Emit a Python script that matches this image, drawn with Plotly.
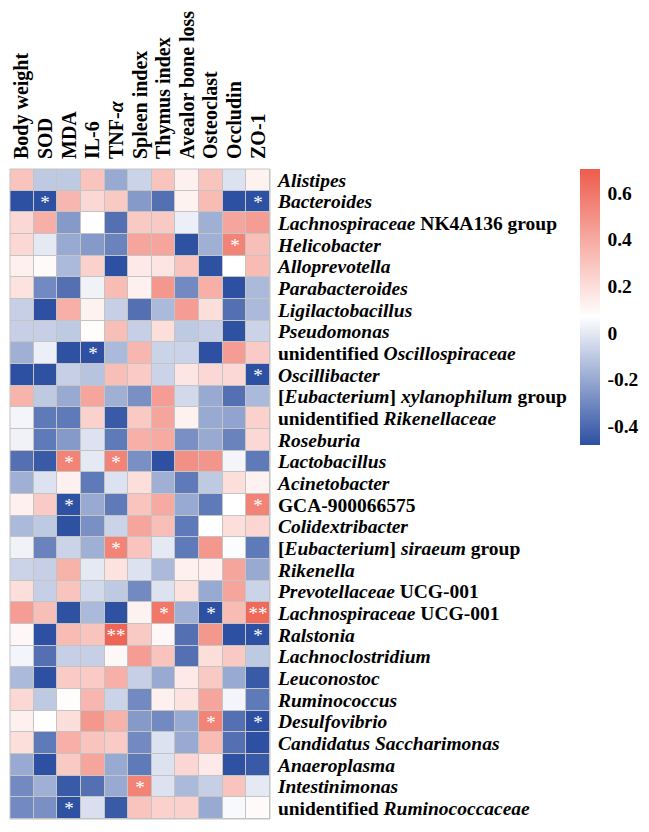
import plotly.graph_objects as go

measures = ["Body weight", "SOD", "MDA", "IL-6", "TNF-<i>α</i>", "Spleen index", "Thymus index",
            "Avealor bone loss", "Osteoclast", "Occludin", "ZO-1"]

species = [
    "<i>Alistipes</i>", "<i>Bacteroides</i>", "<i>Lachnospiraceae</i> NK4A136 group", "<i>Helicobacter</i>",
    "<i>Alloprevotella</i>", "<i>Parabacteroides</i>", "<i>Ligilactobacillus</i>", "<i>Pseudomonas</i>",
    "unidentified <i>Oscillospiraceae</i>", "<i>Oscillibacter</i>", "[<i>Eubacterium</i>] <i>xylanophilum</i> group",
    "unidentified <i>Rikenellaceae</i>", "<i>Roseburia</i>", "<i>Lactobacillus</i>", "<i>Acinetobacter</i>",
    "GCA-900066575", "<i>Colidextribacter</i>", "[<i>Eubacterium</i>] <i>siraeum</i> group", "<i>Rikenella</i>",
    "<i>Prevotellaceae</i> UCG-001", "<i>Lachnospiraceae</i> UCG-001", "<i>Ralstonia</i>", "<i>Lachnoclostridium</i>",
    "<i>Leuconostoc</i>", "<i>Ruminococcus</i>", "<i>Desulfovibrio</i>", "<i>Candidatus Saccharimonas</i>",
    "<i>Anaeroplasma</i>", "<i>Intestinimonas</i>", "unidentified <i>Ruminococcaceae</i>",
]

corr = [
    [0.30, -0.10, -0.10, 0.30, -0.20, -0.07, 0.30, 0.13, 0.30, -0.02, 0.12],
    [-0.52, -0.50, 0.35, 0.22, 0.28, -0.25, -0.38, 0.12, 0.33, -0.50, -0.52],
    [0.22, 0.38, -0.25, 0.07, -0.38, 0.28, 0.28, 0.02, -0.18, 0.42, 0.45],
    [0.22, 0.00, -0.20, -0.25, -0.32, 0.42, 0.42, -0.48, -0.18, 0.55, 0.32],
    [0.13, 0.09, -0.15, 0.25, -0.50, 0.15, 0.17, 0.30, -0.48, 0.07, 0.33],
    [0.18, -0.30, -0.38, 0.03, 0.33, 0.13, 0.47, -0.30, 0.38, -0.50, -0.15],
    [-0.08, -0.50, 0.38, 0.12, -0.08, -0.38, -0.15, 0.45, 0.20, -0.38, -0.15],
    [-0.08, -0.08, -0.10, 0.08, 0.32, -0.08, 0.20, -0.10, -0.08, -0.48, -0.07],
    [-0.18, 0.02, -0.48, -0.50, -0.15, 0.35, -0.07, -0.07, -0.50, 0.45, 0.27],
    [-0.50, -0.48, -0.08, -0.12, 0.32, 0.27, -0.07, 0.17, 0.22, 0.22, -0.52],
    [0.36, -0.10, -0.20, 0.42, -0.18, -0.28, 0.45, -0.05, -0.20, -0.38, -0.15],
    [0.04, -0.35, -0.35, 0.25, -0.45, 0.28, 0.42, 0.12, -0.20, -0.22, 0.25],
    [0.03, -0.35, -0.25, -0.02, -0.35, 0.38, 0.40, -0.28, -0.20, -0.32, 0.22],
    [-0.38, -0.45, 0.55, 0.00, 0.55, -0.28, -0.50, 0.50, 0.48, 0.04, -0.35],
    [-0.18, -0.02, 0.13, -0.35, -0.02, 0.20, -0.18, -0.35, -0.10, 0.20, 0.12],
    [0.13, 0.27, -0.48, -0.20, -0.35, 0.30, 0.40, -0.20, -0.35, 0.07, 0.55],
    [-0.15, -0.10, -0.48, -0.28, -0.07, 0.42, 0.32, -0.35, 0.07, 0.20, 0.23],
    [0.03, -0.32, -0.07, -0.18, 0.55, 0.30, 0.00, -0.35, 0.47, 0.06, -0.35],
    [-0.07, -0.08, 0.37, 0.00, 0.18, -0.02, -0.15, 0.13, 0.13, 0.42, -0.20],
    [0.20, -0.08, 0.30, -0.05, -0.10, -0.30, -0.02, 0.18, -0.20, 0.42, -0.07],
    [0.45, 0.32, -0.48, -0.15, -0.48, 0.12, 0.60, -0.18, -0.52, 0.33, 0.65],
    [0.10, -0.50, 0.33, 0.30, 0.67, 0.28, 0.10, -0.38, 0.47, -0.50, -0.52],
    [0.04, -0.38, -0.08, -0.08, 0.10, 0.45, 0.30, -0.38, 0.20, 0.28, -0.10],
    [-0.15, -0.50, 0.27, 0.27, 0.38, -0.08, -0.20, 0.15, 0.28, -0.20, -0.45],
    [0.22, -0.10, 0.08, 0.35, -0.07, -0.30, 0.13, 0.18, 0.42, 0.04, -0.35],
    [0.13, 0.07, 0.20, 0.47, 0.37, -0.25, -0.30, -0.20, 0.55, -0.38, -0.50],
    [0.20, -0.35, 0.38, 0.30, 0.27, -0.30, -0.02, -0.20, 0.33, -0.38, -0.50],
    [-0.20, -0.50, 0.28, 0.42, -0.20, -0.35, -0.02, 0.23, 0.15, -0.48, -0.45],
    [-0.30, -0.18, -0.45, -0.38, -0.20, 0.55, -0.02, -0.15, -0.08, 0.30, 0.00],
    [-0.30, -0.28, -0.48, -0.03, -0.45, 0.30, 0.25, 0.25, -0.20, 0.05, 0.09],
]

stars = [
    ["", "", "", "", "", "", "", "", "", "", ""],
    ["", "*", "", "", "", "", "", "", "", "", "*"],
    ["", "", "", "", "", "", "", "", "", "", ""],
    ["", "", "", "", "", "", "", "", "", "*", ""],
    ["", "", "", "", "", "", "", "", "", "", ""],
    ["", "", "", "", "", "", "", "", "", "", ""],
    ["", "", "", "", "", "", "", "", "", "", ""],
    ["", "", "", "", "", "", "", "", "", "", ""],
    ["", "", "", "*", "", "", "", "", "", "", ""],
    ["", "", "", "", "", "", "", "", "", "", "*"],
    ["", "", "", "", "", "", "", "", "", "", ""],
    ["", "", "", "", "", "", "", "", "", "", ""],
    ["", "", "", "", "", "", "", "", "", "", ""],
    ["", "", "*", "", "*", "", "", "", "", "", ""],
    ["", "", "", "", "", "", "", "", "", "", ""],
    ["", "", "*", "", "", "", "", "", "", "", "*"],
    ["", "", "", "", "", "", "", "", "", "", ""],
    ["", "", "", "", "*", "", "", "", "", "", ""],
    ["", "", "", "", "", "", "", "", "", "", ""],
    ["", "", "", "", "", "", "", "", "", "", ""],
    ["", "", "", "", "", "", "*", "", "*", "", "**"],
    ["", "", "", "", "**", "", "", "", "", "", "*"],
    ["", "", "", "", "", "", "", "", "", "", ""],
    ["", "", "", "", "", "", "", "", "", "", ""],
    ["", "", "", "", "", "", "", "", "", "", ""],
    ["", "", "", "", "", "", "", "", "*", "", "*"],
    ["", "", "", "", "", "", "", "", "", "", ""],
    ["", "", "", "", "", "", "", "", "", "", ""],
    ["", "", "", "", "", "*", "", "", "", "", ""],
    ["", "", "*", "", "", "", "", "", "", "", ""],
]

cbar_ticks = [-0.4, -0.2, 0, 0.2, 0.4, 0.6]
zmin, zmax, zwhite = -0.482, 0.703, 0.07

W, H = 649, 832
OFF = 8  # default page body margin
FONT = "Liberation Serif"


def px_x(v):
    return (v - OFF) / W


def px_y(v):
    return 1 - (v - OFF) / H


wpos = (zwhite - zmin) / (zmax - zmin)

fig = go.Figure()
fig.add_trace(go.Heatmap(
    z=corr,
    x=list(range(len(measures))),
    y=list(range(len(species))),
    text=stars,
    texttemplate="%{text}",
    textfont=dict(family=FONT, size=19, color="white"),
    colorscale=[[0, "#2D50A2"], [wpos, "#FFFFFF"], [1, "#EE5C4C"]],
    zmin=zmin, zmax=zmax,
    xgap=1, ygap=1,
    hoverinfo="skip",
    colorbar=dict(
        thickness=20, thicknessmode="pixels",
        len=276, lenmode="pixels",
        x=px_x(580), xanchor="left", xpad=0,
        y=px_y(169), yanchor="top", ypad=0,
        outlinewidth=0,
        tickvals=cbar_ticks,
        ticktext=[f"<b>{v:g}</b>" for v in cbar_ticks],
        ticks="outside", ticklen=4, tickcolor="rgba(0,0,0,0)",
        tickfont=dict(family=FONT, size=19.5, color="black"),
    ),
))

x0, x1 = px_x(10), px_x(270)
y0, y1 = px_y(819), px_y(169)

fig.update_layout(
    width=W, height=H,
    margin=dict(l=0, r=0, t=0, b=0),
    paper_bgcolor="white",
    plot_bgcolor="#C4C4C4",
    font=dict(family=FONT, color="black"),
    xaxis=dict(
        domain=[x0, x1], side="top",
        tickvals=list(range(len(measures))),
        ticktext=[f"<b>{m}</b>" for m in measures],
        tickangle=-90, ticks="outside", ticklen=5, tickcolor="rgba(0,0,0,0)",
        tickfont=dict(family=FONT, size=20, color="black"),
        showgrid=False, zeroline=False, showline=False, automargin=False,
        range=[-0.5, len(measures) - 0.5],
    ),
    yaxis=dict(
        domain=[y0, y1], side="right",
        tickvals=list(range(len(species))),
        ticktext=[f"<b>{s}</b>" for s in species],
        ticks="outside", ticklen=3, tickcolor="rgba(0,0,0,0)",
        tickfont=dict(family=FONT, size=19.5, color="black"),
        showgrid=False, zeroline=False, showline=False, automargin=False,
        range=[len(species) - 0.5, -0.5],
    ),
    shapes=[dict(type="rect", xref="paper", yref="paper", x0=x0, x1=x1, y0=y0, y1=y1,
                 line=dict(color="#C4C4C4", width=1), fillcolor="rgba(0,0,0,0)", layer="above")],
)

fig.write_html("out.html")
